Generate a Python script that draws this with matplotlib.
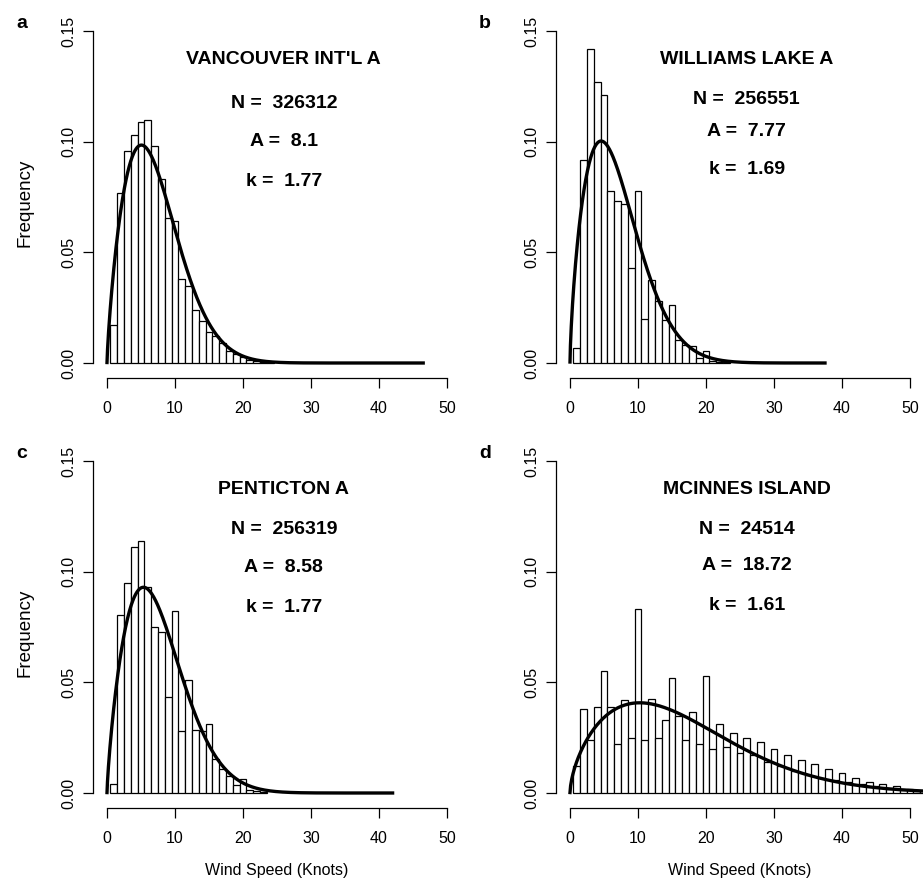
import numpy as np
import matplotlib
matplotlib.use("Agg")
import matplotlib.pyplot as plt

plt.rcParams['font.family'] = ['Liberation Sans', 'DejaVu Sans']

# station info
stations = ["VANCOUVER INT'L A", "WILLIAMS LAKE A", "PENTICTON A", "MCINNES ISLAND"]
panel_letters = ["a", "b", "c", "d"]
n_obs = [326312, 256551, 256319, 24514]
scale_A = ["8.1", "7.77", "8.58", "18.72"]
shape_k = ["1.77", "1.69", "1.77", "1.61"]
max_speed = [46.5, 37.5, 42.0, 53.0]

# relative frequency per 1-knot bin (bins centred on 1, 2, 3, ... knots)
freq_a = [0.017, 0.077, 0.096, 0.103, 0.109, 0.110, 0.098, 0.083, 0.0655, 0.064,
          0.038, 0.035, 0.024, 0.019, 0.014, 0.012, 0.009, 0.0055, 0.004, 0.0025,
          0.0015, 0.0008, 0.0005, 0.0003]
freq_b = [0.0068, 0.0916, 0.142, 0.127, 0.121, 0.0776, 0.0733, 0.072, 0.043, 0.0776,
          0.020, 0.0376, 0.028, 0.0196, 0.026, 0.0105, 0.008, 0.0075, 0.0023, 0.0056,
          0.001, 0.0005, 0.0003]
freq_c = [0.004, 0.0806, 0.095, 0.111, 0.1137, 0.093, 0.075, 0.0729, 0.0435, 0.0824,
          0.028, 0.051, 0.0286, 0.028, 0.031, 0.0155, 0.011, 0.0075, 0.0038, 0.0063,
          0.0015, 0.0008, 0.0005]
freq_d = [0.012, 0.038, 0.024, 0.039, 0.055, 0.039, 0.022, 0.042, 0.025, 0.083,
          0.024, 0.0425, 0.025, 0.033, 0.052, 0.035, 0.024, 0.0365, 0.022, 0.053,
          0.020, 0.031, 0.021, 0.027, 0.018, 0.025, 0.017, 0.023, 0.014, 0.020,
          0.012, 0.017, 0.010, 0.015, 0.008, 0.013, 0.007, 0.011, 0.006, 0.009,
          0.005, 0.007, 0.004, 0.005, 0.003, 0.004, 0.002, 0.003, 0.0015, 0.002,
          0.001, 0.001]
freqs = [freq_a, freq_b, freq_c, freq_d]

x_ticks = [0, 10, 20, 30, 40, 50]
y_ticks = [0.0, 0.05, 0.10, 0.15]
y_tick_labels = ["0.00", "0.05", "0.10", "0.15"]


def weibull(x, A, k):
    return (k / A) * (x / A) ** (k - 1) * np.exp(-(x / A) ** k)


W, H = 923, 881
fig = plt.figure(figsize=(W / 100, H / 100), dpi=100)

# pixel position of (0 knots, 0 frequency) for each panel
origins = [(107, 363), (570, 363), (107, 793), (570, 793)]
px_knot = 6.8
px_freq = 2213
# text heights (pixels above baseline) per panel
text_px = [(303, 260, 221, 181), (303, 263, 231, 193),
           (303, 263, 226, 186), (303, 263, 228, 188)]

for i in range(4):
    x0, y0 = origins[i]
    left = x0 - 2 * px_knot
    right = x0 + 52 * px_knot
    top = y0 - 0.156 * px_freq
    bottom = y0 + 0.007 * px_freq
    ax = fig.add_axes([left / W, 1 - bottom / H, (right - left) / W, (bottom - top) / H])
    ax.set_xlim(-2, 52)
    ax.set_ylim(-0.007, 0.156)

    f = freqs[i]
    centers = np.arange(1, len(f) + 1)
    ax.bar(centers, f, width=1.0, facecolor='white', edgecolor='black', linewidth=0.9)

    A = float(scale_A[i])
    k = float(shape_k[i])
    xs = np.linspace(0.001, max_speed[i], 600)
    ax.plot(xs, weibull(xs, A, k), color='black', lw=2.4)

    for s in ['top', 'right']:
        ax.spines[s].set_visible(False)
    ax.spines['left'].set_bounds(0, 0.15)
    ax.spines['bottom'].set_bounds(0, 50)
    for s in ['left', 'bottom']:
        ax.spines[s].set_linewidth(0.9)
    ax.set_xticks(x_ticks)
    ax.set_xticklabels([str(t) for t in x_ticks])
    ax.set_yticks(y_ticks)
    ax.set_yticklabels(y_tick_labels, rotation=90, va='center')
    ax.tick_params(direction='out', length=7.5, width=0.9, labelsize=11.5)
    ax.tick_params(axis='x', pad=9)
    ax.tick_params(axis='y', pad=5)

    ty = [t / px_freq for t in text_px[i]]
    ax.text(26, ty[0], stations[i], ha='center', va='center', fontsize=14, fontweight='bold')
    ax.text(26, ty[1], "N =  " + str(n_obs[i]), ha='center', va='center', fontsize=14, fontweight='bold')
    ax.text(26, ty[2], "A =  " + scale_A[i], ha='center', va='center', fontsize=14, fontweight='bold')
    ax.text(26, ty[3], "k =  " + shape_k[i], ha='center', va='center', fontsize=14, fontweight='bold')

    # panel letter
    fig.text((x0 - 85) / W, 1 - (y0 - 340) / H, panel_letters[i], ha='center', va='center',
             fontsize=14, fontweight='bold')

    if i % 2 == 0:
        fig.text(25 / W, 1 - (y0 - 160) / H, "Frequency", rotation=90, ha='center', va='center',
                 fontsize=13.5)
    if i >= 2:
        ax.set_xlabel("Wind Speed (Knots)", fontsize=11.5, labelpad=12)

fig.savefig("out.png", dpi=100)
